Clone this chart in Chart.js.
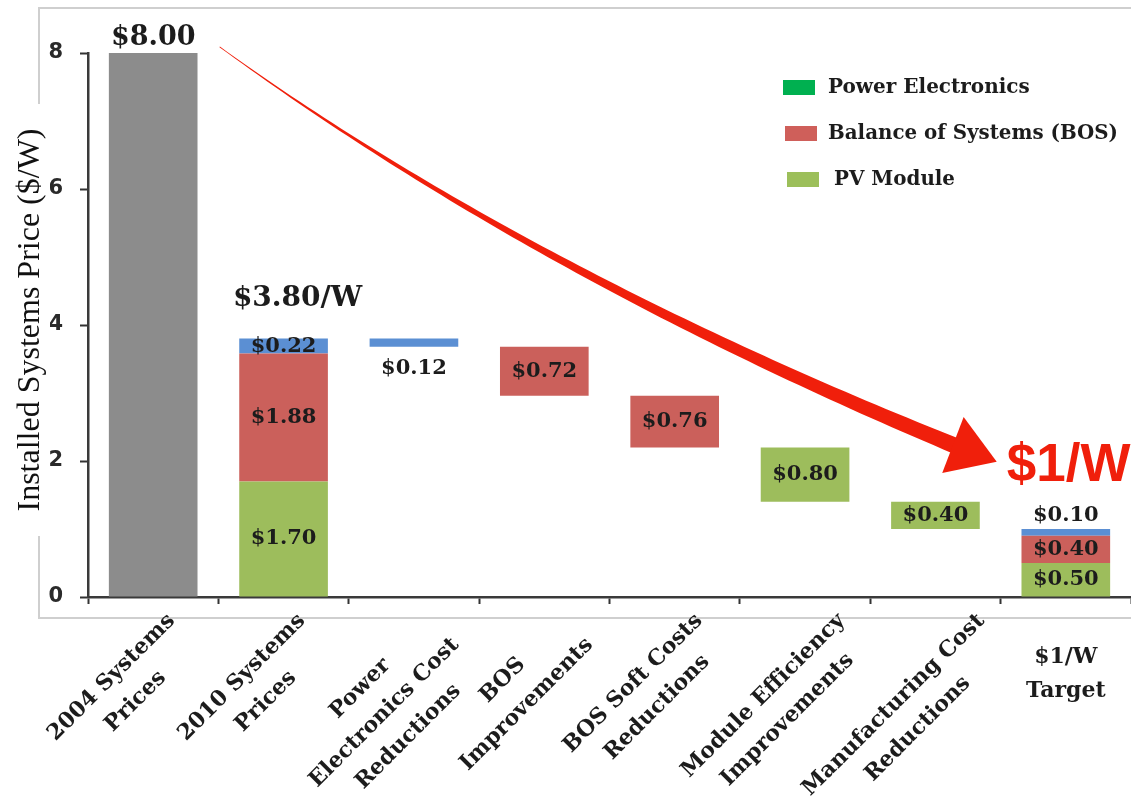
<!DOCTYPE html>
<html>
<head>
<meta charset="utf-8">
<script src="https://cdn.jsdelivr.net/npm/chart.js@4.4.1/dist/chart.umd.min.js"></script>
<style>
  html, body { margin: 0; padding: 0; background: #fff; overflow: hidden; }
  #wrap { position: relative; width: 1131px; height: 807px; }
</style>
</head>
<body>
<div id="wrap"><canvas id="chart"></canvas></div>
<script>
// --- DATA ---
const categories = [
  ['2004 Systems', 'Prices'],
  ['2010 Systems', 'Prices'],
  ['Power', 'Electronics Cost', 'Reductions'],
  ['BOS', 'Improvements'],
  ['BOS Soft Costs', 'Reductions'],
  ['Module Efficiency', 'Improvements'],
  ['Manufacturing Cost', 'Reductions'],
  ['$1/W', 'Target']
];
// 'total' columns stand on zero, 'step' columns hang from the running level
const columnKind = ['total', 'total', 'step', 'step', 'step', 'step', 'step', 'total'];
const price2004 = [8.00, null, null, null, null, null, null, null];
const pvModule = [null, 1.70, null, null, null, 0.80, 0.40, 0.50];
const balanceOfSystems = [null, 1.88, null, 0.72, 0.76, null, null, 0.40];
const powerElectronics = [null, 0.22, 0.12, null, null, null, null, 0.10];
const yTicks = [0, 2, 4, 6, 8];
const seriesNames = ['Power Electronics', 'Balance of Systems (BOS)', 'PV Module'];

// --- WATERFALL RANGES ---
const ranges = { p04: [], pv: [], bos: [], pe: [] };
let level = 0;
categories.forEach((c, i) => {
  const parts = [['p04', price2004[i]], ['pv', pvModule[i]], ['bos', balanceOfSystems[i]], ['pe', powerElectronics[i]]];
  if (columnKind[i] === 'total') {
    let base = 0;
    parts.forEach(([k, v]) => {
      if (v == null) { ranges[k].push(null); return; }
      ranges[k].push([base, +(base + v).toFixed(2)]);
      base = +(base + v).toFixed(2);
    });
    level = base;
  } else {
    parts.forEach(([k, v]) => {
      if (v == null) { ranges[k].push(null); return; }
      ranges[k].push([+(level - v).toFixed(2), level]);
      level = +(level - v).toFixed(2);
    });
  }
});

const SERIF = '"DejaVu Serif", serif';
const TXT = '#1c1c1c';

// arrow (annotation) in axis units: start, control, end of shaft, tip
const arrowShaft = [[0.51, 8.09], [2.89, 4.78], [6.17, 2.21]];
const arrowTip = [6.47, 1.99];

function money(v) { return '$' + v.toFixed(2); }

const decorPlugin = {
  id: 'decor',
  beforeDraw(chart) {
    const ctx = chart.ctx;
    ctx.save();
    ctx.fillStyle = '#fff';
    ctx.fillRect(0, 0, chart.width, chart.height);
    // outer frame of the plot
    ctx.strokeStyle = '#cfcfcf';
    ctx.lineWidth = 2;
    ctx.beginPath();
    ctx.moveTo(1140, 8); ctx.lineTo(39, 8); ctx.lineTo(39, 618); ctx.lineTo(1140, 618);
    ctx.stroke();
    ctx.restore();
  },
  afterDraw(chart) {
    const ctx = chart.ctx;
    const xs = chart.scales.x, ys = chart.scales.y;
    const area = chart.chartArea;
    ctx.save();

    // y axis title
    ctx.fillStyle = '#fff';
    ctx.fillRect(12, 104, 38, 432);
    ctx.save();
    ctx.translate(31, 320);
    ctx.rotate(-Math.PI / 2);
    ctx.fillStyle = '#111';
    ctx.font = '32px "Liberation Serif", serif';
    ctx.textAlign = 'center';
    ctx.textBaseline = 'middle';
    ctx.fillText('Installed Systems Price ($/W)', 0, 0, 420);
    ctx.restore();

    // value labels
    const keys = ['p04', 'pv', 'bos', 'pe'];
    const raw = [price2004, pvModule, balanceOfSystems, powerElectronics];
    ctx.fillStyle = TXT;
    ctx.textAlign = 'center';
    ctx.textBaseline = 'middle';
    keys.forEach((k, d) => {
      const meta = chart.getDatasetMeta(d);
      meta.data.forEach((bar, i) => {
        const v = raw[d][i];
        if (v == null) return;
        const top = Math.min(bar.y, bar.base), bottom = Math.max(bar.y, bar.base);
        let y = (top + bottom) / 2;
        ctx.font = 'bold 21px ' + SERIF;
        if (k === 'p04') {
          ctx.font = 'bold 27px ' + SERIF;
          y = top - 15;
        } else if (k === 'pe' && columnKind[i] === 'step') {
          y = bottom + 22;
        } else if (k === 'pe' && i === categories.length - 1) {
          y = top - 13;
        }
        ctx.fillText(money(v), bar.x, y);
      });
    });
    // 2010 total label
    const peMeta = chart.getDatasetMeta(3);
    const b2010 = peMeta.data[1];
    ctx.font = 'bold 28px ' + SERIF;
    ctx.fillText('$' + ranges.pe[1][1].toFixed(2) + '/W', b2010.x + 14, Math.min(b2010.y, b2010.base) - 40, 132);

    // curved arrow
    const P = arrowShaft.map(([a, b]) => [xs.getPixelForValue(a), ys.getPixelForValue(b)]);
    const T = [xs.getPixelForValue(arrowTip[0]), ys.getPixelForValue(arrowTip[1])];
    const left = [], right = [];
    const N = 80;
    for (let n = 0; n <= N; n++) {
      const t = n / N;
      const px = (1 - t) * (1 - t) * P[0][0] + 2 * (1 - t) * t * P[1][0] + t * t * P[2][0];
      const py = (1 - t) * (1 - t) * P[0][1] + 2 * (1 - t) * t * P[1][1] + t * t * P[2][1];
      const dx = 2 * (1 - t) * (P[1][0] - P[0][0]) + 2 * t * (P[2][0] - P[1][0]);
      const dy = 2 * (1 - t) * (P[1][1] - P[0][1]) + 2 * t * (P[2][1] - P[1][1]);
      const len = Math.hypot(dx, dy);
      const hw = 0.4 + 7.6 * Math.pow(t, 1.25);
      left.push([px - dy / len * hw, py + dx / len * hw]);
      right.push([px + dy / len * hw, py - dx / len * hw]);
    }
    ctx.fillStyle = '#f01f0b';
    ctx.beginPath();
    left.forEach(([x, y], n) => n ? ctx.lineTo(x, y) : ctx.moveTo(x, y));
    right.reverse().forEach(([x, y]) => ctx.lineTo(x, y));
    ctx.closePath();
    ctx.fill();
    // arrow head
    const hx = T[0] - P[2][0], hy = T[1] - P[2][1];
    const hl = Math.hypot(hx, hy);
    const nx = -hy / hl, ny = hx / hl;
    const hwid = 30;
    ctx.beginPath();
    ctx.moveTo(T[0], T[1]);
    ctx.lineTo(P[2][0] + nx * hwid - hx / hl * 5, P[2][1] + ny * hwid - hy / hl * 5);
    ctx.lineTo(P[2][0] - nx * hwid - hx / hl * 5, P[2][1] - ny * hwid - hy / hl * 5);
    ctx.closePath();
    ctx.fill();

    // $1/W callout
    ctx.fillStyle = '#f01f0b';
    ctx.font = 'bold 53px "Liberation Sans", Arial, sans-serif';
    ctx.textAlign = 'left';
    ctx.textBaseline = 'alphabetic';
    ctx.fillText('$1/W', xs.getPixelForValue(categories.length - 1) - 59, ys.getPixelForValue(1.7), 124);

    // category labels
    ctx.fillStyle = TXT;
    ctx.font = 'bold 22px ' + SERIF;
    const lh = 34;
    categories.forEach((lines, i) => {
      const cx = xs.getPixelForValue(i);
      ctx.textAlign = 'center';
      if (i === categories.length - 1) {
        lines.forEach((ln, k) => ctx.fillText(ln, cx, area.bottom + 66 + k * lh));
        return;
      }
      const W = Math.max(...lines.map(l => ctx.measureText(l).width));
      const H = lines.length * lh;
      const tx = cx - 22 + 0.3536 * (W - H);
      const ty = area.bottom + 16;
      ctx.save();
      ctx.translate(tx, ty);
      ctx.rotate(-Math.PI / 4);
      lines.forEach((ln, k) => ctx.fillText(ln, -W / 2, 12 + k * lh));
      ctx.restore();
    });

    // legend
    const legendColors = ['#00b050', '#cf5f5a', '#9cbf5a'];
    const legendY = [87, 133, 179];
    const legendX = [828, 828, 834];
    const legendW = [207, 290, 121];
    ctx.font = 'bold 20px ' + SERIF;
    ctx.textAlign = 'left';
    ctx.textBaseline = 'middle';
    seriesNames.forEach((name, k) => {
      ctx.fillStyle = legendColors[k];
      ctx.fillRect(783 + k * 2, legendY[k] - 7, 32, 15);
      ctx.fillStyle = TXT;
      ctx.fillText(name, legendX[k], legendY[k] + 1, legendW[k]);
    });

    ctx.restore();
  }
};

const ctx = document.getElementById('chart').getContext('2d');
new Chart(ctx, {
  type: 'bar',
  data: {
    labels: categories,
    datasets: [
      { label: '2004', data: ranges.p04, backgroundColor: '#8c8c8c' },
      { label: seriesNames[2], data: ranges.pv, backgroundColor: '#9dbd5c' },
      { label: seriesNames[1], data: ranges.bos, backgroundColor: '#cb605b' },
      { label: seriesNames[0], data: ranges.pe, backgroundColor: '#5b8fd3' }
    ]
  },
  options: {
    responsive: true,
    maintainAspectRatio: false,
    animation: false,
    layout: { padding: { top: 53, right: 0, left: 0, bottom: 0 } },
    datasets: { bar: { categoryPercentage: 1, barPercentage: 0.68, borderWidth: 0, skipNull: true } },
    plugins: { legend: { display: false }, tooltip: { enabled: false } },
    scales: {
      x: {
        stacked: true,
        ticks: { display: false },
        grid: { drawOnChartArea: false, tickLength: 7, tickWidth: 2, tickColor: '#333', offset: true },
        border: { color: '#3a3a3a', width: 2.5 },
        afterFit(s) { s.height = 210; }
      },
      y: {
        stacked: false,
        min: 0,
        max: 8,
        afterBuildTicks(s) { s.ticks = yTicks.map(v => ({ value: v })); },
        ticks: { color: '#2a2a2a', padding: 17, font: { family: 'DejaVu Sans', weight: 'bold', size: 21 } },
        grid: { drawOnChartArea: false, tickLength: 8, tickWidth: 2, tickColor: '#333' },
        border: { color: '#3a3a3a', width: 2.5 },
        afterFit(s) { s.width = 88; }
      }
    }
  },
  plugins: [decorPlugin]
});
</script>
</body>
</html>
